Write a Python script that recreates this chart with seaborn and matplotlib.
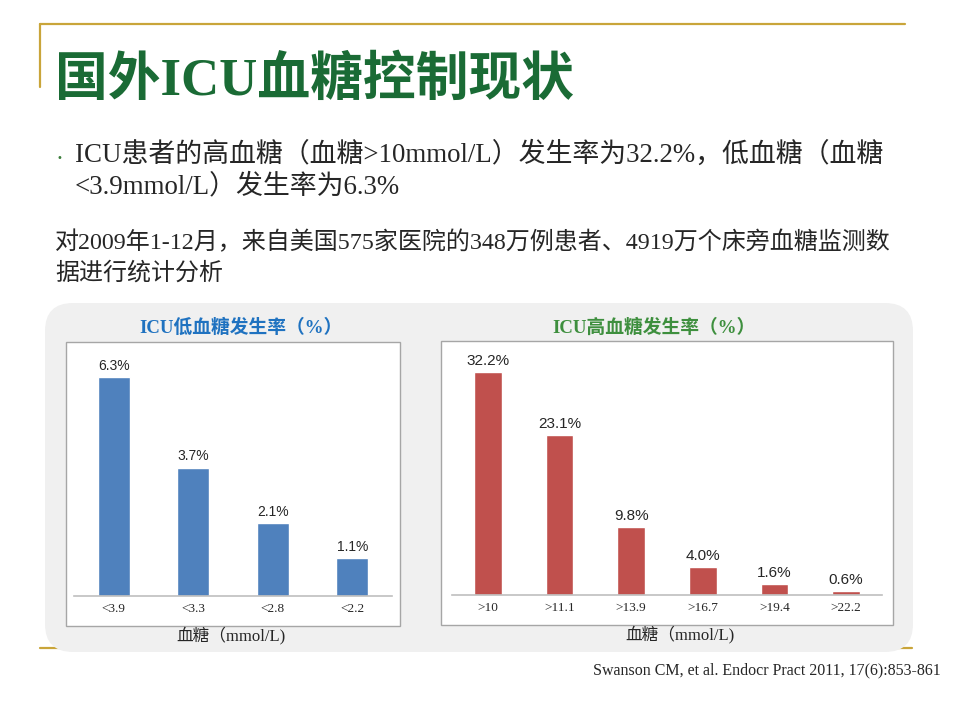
import matplotlib
matplotlib.use("Agg")
import matplotlib.pyplot as plt
import seaborn as sns
import pandas as pd
from matplotlib.patches import FancyBboxPatch, Rectangle

# data
low_bins = ["<3.9", "<3.3", "<2.8", "<2.2"]
low_rate = [6.3, 3.7, 2.1, 1.1]
high_bins = [">10", ">11.1", ">13.9", ">16.7", ">19.4", ">22.2"]
high_rate = [32.2, 23.1, 9.8, 4.0, 1.6, 0.6]

title_text = "国外ICU血糖控制现状"
bullet_lines = ["ICU患者的高血糖（血糖>10mmol/L）发生率为32.2%，低血糖（血糖",
                "<3.9mmol/L）发生率为6.3%"]
para_lines = ["对2009年1-12月，来自美国575家医院的348万例患者、4919万个床旁血糖监测数",
              "据进行统计分析"]
low_title = "ICU低血糖发生率（%）"
high_title = "ICU高血糖发生率（%）"
xlab = "血糖（mmol/L)"
source = "Swanson CM, et al. Endocr Pract 2011, 17(6):853-861"

sns.set_style("white")
MIX = ["Liberation Serif", "Noto Sans CJK SC"]
plt.rcParams["font.family"] = MIX

GOLD = "#c9a53a"
BLUE = "#4f81bd"
RED = "#c0504d"

W, H = 960, 720
fig = plt.figure(figsize=(9.6, 7.2), dpi=100)

# background layer in pixel coordinates
bg = fig.add_axes([0, 0, 1, 1], zorder=0)
bg.set_xlim(0, W)
bg.set_ylim(H, 0)
bg.axis("off")

bg.plot([40, 905], [24, 24], color=GOLD, lw=1.6)
bg.plot([40, 40], [24, 87], color=GOLD, lw=1.6)
bg.plot([40, 912], [648, 648], color=GOLD, lw=1.6, zorder=0)

bg.text(55, 81, title_text, fontsize=38, fontweight="bold", color="#1a6b35",
        va="center", ha="left")
bg.text(57, 158, "•", fontsize=7, color="#3a7d3a", va="center", ha="left",
        family="DejaVu Sans")
bg.text(75, 155, bullet_lines[0], fontsize=19.4, va="center", ha="left")
bg.text(75, 187, bullet_lines[1], fontsize=19.4, va="center", ha="left")
bg.text(55, 243, para_lines[0], fontsize=17.3, va="center", ha="left")
bg.text(55, 273, para_lines[1], fontsize=17.3, va="center", ha="left")

panel = FancyBboxPatch((45, 303), 868, 349,
                       boxstyle="round,pad=0,rounding_size=28",
                       fc="#f0f0f0", ec="none", zorder=1)
bg.add_patch(panel)
bg.add_patch(Rectangle((66, 342), 334, 284, fc="white", ec="#a6a6a6", lw=1, zorder=1.5))
bg.add_patch(Rectangle((441, 341), 452, 284, fc="white", ec="#a6a6a6", lw=1, zorder=1.5))

bg.text(241, 328, low_title, fontsize=13.5, fontweight="bold", color="#1f72c0",
        ha="center", va="center")
bg.text(654, 328, high_title, fontsize=13.5, fontweight="bold", color="#3e8f3e",
        ha="center", va="center")
bg.text(231, 635, xlab, fontsize=12, ha="center", va="center")
bg.text(680, 634, xlab, fontsize=12, ha="center", va="center")
bg.text(593, 670, source, fontsize=11.5, ha="left", va="center")


def px_axes(x0, x1, ytop, ybase):
    return fig.add_axes([x0 / W, 1 - ybase / H, (x1 - x0) / W, (ybase - ytop) / H],
                        zorder=1)


def style(ax, ymax, n):
    ax.patch.set_alpha(0)
    ax.set_ylim(0, ymax)
    ax.set_xlim(-0.5, n - 0.5)
    for s in ["top", "left", "right"]:
        ax.spines[s].set_visible(False)
    ax.spines["bottom"].set_color("#bfbfbf")
    ax.spines["bottom"].set_linewidth(1.2)
    ax.set_yticks([])
    ax.set_xlabel("")
    ax.set_ylabel("")
    ax.tick_params(axis="x", length=0, pad=5, labelsize=9.5)


low_df = pd.DataFrame({"bin": low_bins, "rate": low_rate})
high_df = pd.DataFrame({"bin": high_bins, "rate": high_rate})

ax1 = px_axes(74, 392, 342, 596)
sns.barplot(data=low_df, x="bin", y="rate", color=BLUE, saturation=1,
            width=0.4, ax=ax1)
style(ax1, 7.32, len(low_bins))
ax1.bar_label(ax1.containers[0], labels=[f"{v}%" for v in low_rate],
              padding=3, fontsize=10, family="Liberation Sans")

ax2 = px_axes(452, 882, 341, 595)
sns.barplot(data=high_df, x="bin", y="rate", color=RED, saturation=1,
            width=0.39, ax=ax2)
style(ax2, 36.7, len(high_bins))
ax2.bar_label(ax2.containers[0], labels=[f"{v}%" for v in high_rate],
              padding=3, fontsize=11, family="Liberation Sans")

fig.savefig("out.png", dpi=100)
